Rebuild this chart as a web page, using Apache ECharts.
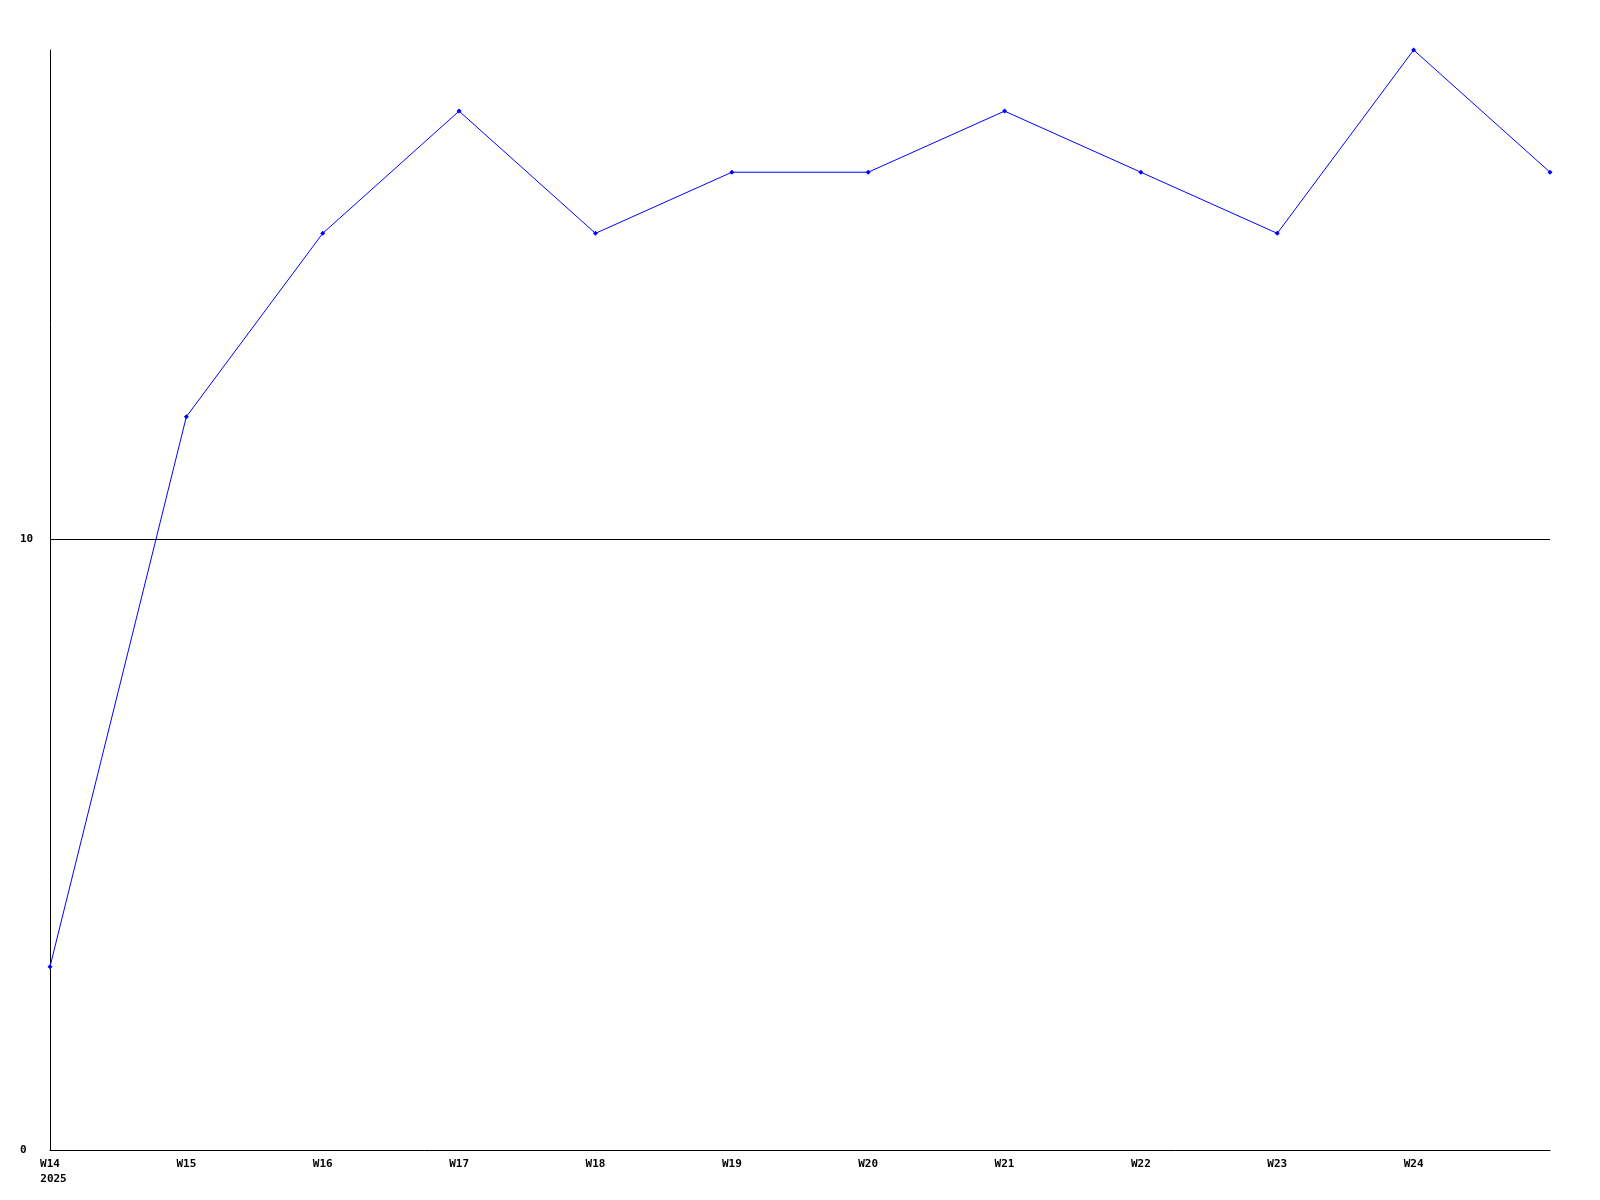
<!DOCTYPE html>
<html><head><meta charset="utf-8">
<script src="https://cdn.jsdelivr.net/npm/echarts@6/dist/echarts.min.js"></script>
<style>html,body{margin:0;padding:0;background:#fff}#c{width:1600px;height:1200px}</style>
</head><body><div id="c"></div>
<script>
const categories = ['W14','W15','W16','W17','W18','W19','W20','W21','W22','W23','W24','W25'];
const tickLabels = ['W14\n2025','W15','W16','W17','W18','W19','W20','W21','W22','W23','W24',''];
const values = [3,12,15,17,15,16,16,17,16,15,18,16];
const yMin = 0, yMax = 18, yInterval = 10, refLine = 10;

const font = '"DejaVu Sans Mono", "Liberation Mono", monospace';
const chart = echarts.init(document.getElementById('c'));
chart.setOption({
  animation: false,
  backgroundColor: '#ffffff',
  grid: {left: 50, right: 50, top: 50, bottom: 50, containLabel: false},
  xAxis: {
    type: 'category', data: categories, boundaryGap: false,
    axisLine: {lineStyle: {color: '#000', width: 1}},
    axisTick: {show: false},
    splitLine: {show: false},
    axisLabel: {
      margin: 7, interval: 0,
      formatter: (v, i) => {
        const t = tickLabels[i];
        if (t.indexOf('\n') >= 0) { const p = t.split('\n'); return '{a|' + p[0] + '}\n{b|' + p[1] + '}'; }
        return '{a|' + t + '}';
      },
      rich: {
        a: {fontFamily: font, fontWeight: 'bold', fontSize: 11, color: '#000', lineHeight: 15},
        b: {fontFamily: font, fontWeight: 'bold', fontSize: 11, color: '#000', lineHeight: 15, padding: [0,0,0,7]}
      }
    }
  },
  yAxis: {
    type: 'value', min: yMin, max: yMax, interval: yInterval,
    axisLine: {show: true, lineStyle: {color: '#000', width: 1}},
    axisTick: {show: false},
    splitLine: {show: false},
    axisLabel: {
      showMaxLabel: false, align: 'left', margin: 30,
      fontFamily: font, fontWeight: 'bold', fontSize: 11, color: '#000'
    }
  },
  series: [{
    type: 'line', data: values,
    symbol: 'diamond', symbolSize: 5, showSymbol: true,
    lineStyle: {color: '#0000ff', width: 1},
    itemStyle: {color: '#0000ff'},
    markLine: {
      silent: true, symbol: ['none','none'], label: {show: false},
      lineStyle: {color: '#000', type: 'solid', width: 1},
      data: [{yAxis: refLine}]
    }
  }]
});
</script></body></html>
